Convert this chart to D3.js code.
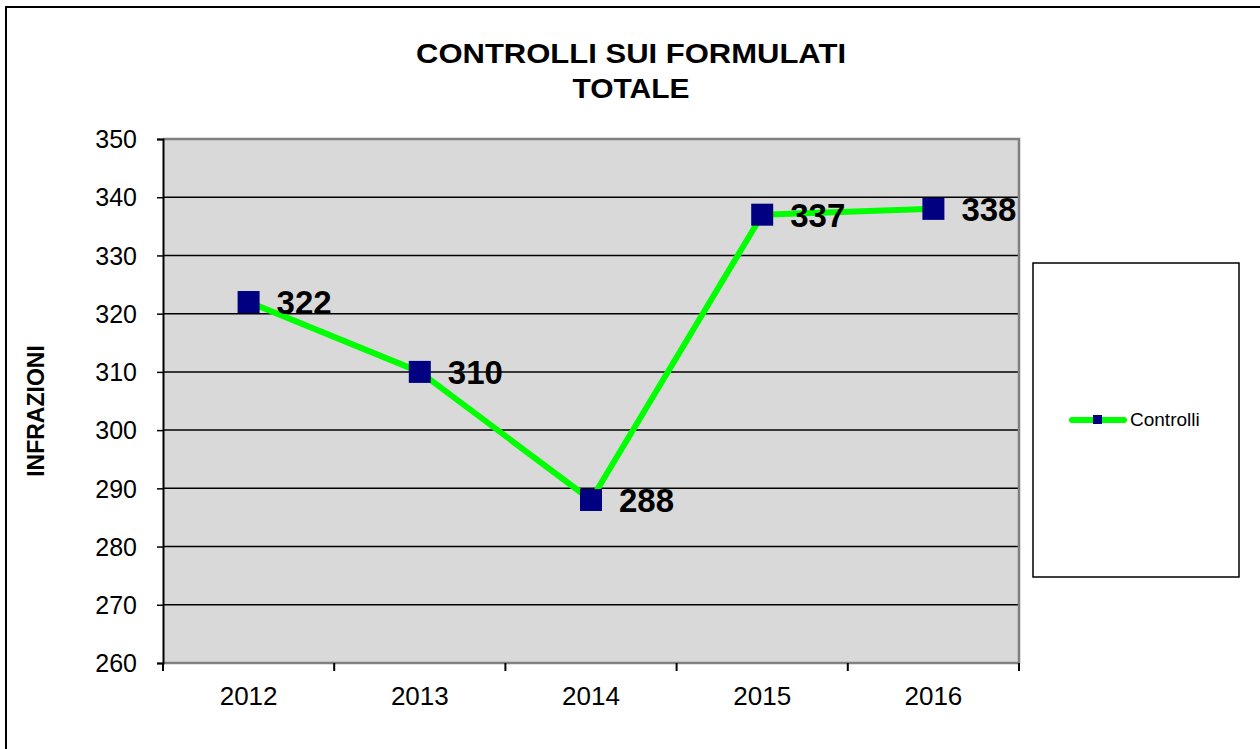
<!DOCTYPE html>
<html>
<head>
<meta charset="utf-8">
<script src="https://cdn.jsdelivr.net/npm/d3@7"></script>
<style>
  body { margin: 0; background: white; }
  svg text { font-family: "Liberation Sans", Arial, sans-serif; }
</style>
</head>
<body>
<svg id="chart" width="1260" height="749"></svg>
<script>
var years = ["2012", "2013", "2014", "2015", "2016"];
var controlli = [322, 310, 288, 337, 338];
var yTicks = [260, 270, 280, 290, 300, 310, 320, 330, 340, 350];

var svg = d3.select('#chart');
var plotLeft = 163, plotRight = 1019, plotTop = 139, plotBottom = 663;

// outer frame (right and bottom run off the picture)
svg.append('rect')
    .attr('x', 6).attr('y', 7)
    .attr('width', 1270).attr('height', 760)
    .style('fill', 'white')
    .style('stroke', 'black')
    .style('stroke-width', 2);

var x = d3.scaleBand().domain(years).range([plotLeft, plotRight]);
var y = d3.scaleLinear().domain([260, 350]).range([plotBottom, plotTop]);

// plot area
svg.append('rect')
    .attr('x', plotLeft).attr('y', plotTop)
    .attr('width', plotRight - plotLeft).attr('height', plotBottom - plotTop)
    .style('fill', '#d9d9d9');

// grid lines
svg.selectAll('.grid')
    .data(yTicks.filter(function (d) { return d > 260 && d < 350; }))
    .enter()
    .append('line')
    .attr('x1', plotLeft).attr('x2', plotRight)
    .attr('y1', function (d) { return y(d); })
    .attr('y2', function (d) { return y(d); })
    .style('stroke', 'black')
    .style('stroke-width', 1.5);

// gray border top / right / bottom
svg.append('path')
    .attr('d', 'M' + plotLeft + ',' + plotTop + 'H' + plotRight + 'V' + plotBottom + 'H' + plotLeft)
    .style('fill', 'none')
    .style('stroke', '#808080')
    .style('stroke-width', 2.5);

// y axis
var yAxis = d3.axisLeft(y).tickValues(yTicks).tickSize(6).tickPadding(20);
var gy = svg.append('g').attr('transform', 'translate(' + plotLeft + ',0)').call(yAxis);
gy.select('.domain').style('stroke', 'black').style('stroke-width', 2);
gy.selectAll('.tick line').style('stroke', 'black').style('stroke-width', 1.5);
gy.selectAll('.tick text')
    .attr('fill', 'black')
    .attr('font-size', 25)
    .attr('dy', '0.35em')
    .style('font-family', '"Liberation Sans", Arial, sans-serif');

// x axis: ticks at category boundaries
var boundaries = years.map(function (d) { return x(d); }).concat([plotRight]);
svg.selectAll('.xtick')
    .data(boundaries)
    .enter()
    .append('line')
    .attr('x1', function (d) { return d; })
    .attr('x2', function (d) { return d; })
    .attr('y1', plotBottom).attr('y2', plotBottom + 8)
    .style('stroke', 'black')
    .style('stroke-width', 2);

svg.selectAll('.xlabel')
    .data(years)
    .enter()
    .append('text')
    .attr('x', function (d) { return x(d) + x.bandwidth() / 2; })
    .attr('y', 705)
    .attr('text-anchor', 'middle')
    .attr('font-size', 26)
    .attr('fill', 'black')
    .text(function (d) { return d; });

// title
svg.append('text')
    .attr('x', 631).attr('y', 63)
    .attr('text-anchor', 'middle')
    .attr('font-size', 28)
    .attr('textLength', 430)
    .attr('lengthAdjust', 'spacingAndGlyphs')
    .style('font-weight', 'bold')
    .text('CONTROLLI SUI FORMULATI');
svg.append('text')
    .attr('x', 631).attr('y', 98)
    .attr('text-anchor', 'middle')
    .attr('font-size', 28)
    .attr('textLength', 117)
    .attr('lengthAdjust', 'spacingAndGlyphs')
    .style('font-weight', 'bold')
    .text('TOTALE');

// y axis title
svg.append('text')
    .attr('transform', 'translate(44, 411) rotate(-90)')
    .attr('text-anchor', 'middle')
    .attr('font-size', 23)
    .style('font-weight', 'bold')
    .text('INFRAZIONI');

// series
var points = years.map(function (d, i) {
    return { year: d, value: controlli[i] };
});
var line = d3.line()
    .x(function (d) { return x(d.year) + x.bandwidth() / 2; })
    .y(function (d) { return y(d.value); });

svg.append('path')
    .datum(points)
    .attr('d', line)
    .style('fill', 'none')
    .style('stroke', '#00ff00')
    .style('stroke-width', 6)
    .style('stroke-linejoin', 'round');

var m = 22;
svg.selectAll('.marker')
    .data(points)
    .enter()
    .append('rect')
    .attr('x', function (d) { return x(d.year) + x.bandwidth() / 2 - m / 2; })
    .attr('y', function (d) { return y(d.value) - m / 2; })
    .attr('width', m).attr('height', m)
    .style('fill', '#000080');

svg.selectAll('.value')
    .data(points)
    .enter()
    .append('text')
    .attr('x', function (d) { return x(d.year) + x.bandwidth() / 2 + 28; })
    .attr('y', function (d) { return y(d.value) + 12; })
    .attr('font-size', 33)
    .style('font-weight', 'bold')
    .attr('fill', 'black')
    .text(function (d) { return d.value; });

// legend
svg.append('rect')
    .attr('x', 1033).attr('y', 263)
    .attr('width', 206).attr('height', 314)
    .style('fill', 'white')
    .style('stroke', 'black')
    .style('stroke-width', 1.5);
svg.append('line')
    .attr('x1', 1072).attr('x2', 1124)
    .attr('y1', 420).attr('y2', 420)
    .style('stroke', '#00ff00')
    .style('stroke-width', 6)
    .style('stroke-linecap', 'round');
svg.append('rect')
    .attr('x', 1093).attr('y', 415)
    .attr('width', 9).attr('height', 9)
    .style('fill', '#000080');
svg.append('text')
    .attr('x', 1130).attr('y', 426)
    .attr('font-size', 19)
    .attr('fill', 'black')
    .text('Controlli');
</script>
</body>
</html>
